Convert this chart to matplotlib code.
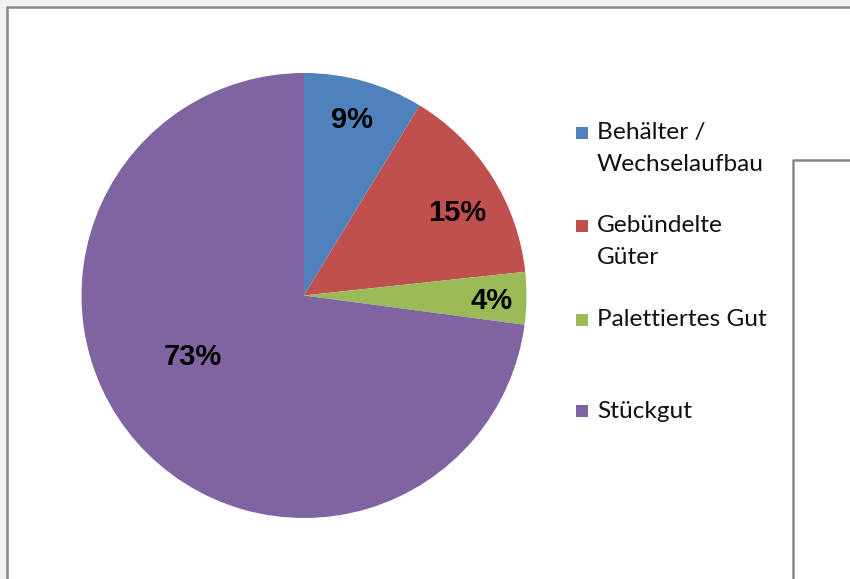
import matplotlib
matplotlib.use("Agg")
import matplotlib.pyplot as plt
from matplotlib.patches import Rectangle
from matplotlib.lines import Line2D

categories = ["Behälter /\nWechselaufbau", "Gebündelte\nGüter", "Palettiertes Gut", "Stückgut"]
values = [8.7, 14.6, 3.8, 72.9]
colors = ["#4F81BD", "#C0504D", "#9BBB59", "#8064A2"]

W, H = 850, 579
fig = plt.figure(figsize=(W / 100, H / 100), dpi=100, facecolor="#F2F2F2")

def fx(x):
    return x / W

def fy(y):
    return 1 - y / H

# outer white frame
fig.patches.append(Rectangle((fx(7), fy(H + 10)), fx(W + 10) - fx(7), fy(7) - fy(H + 10),
                             transform=fig.transFigure, facecolor="white",
                             edgecolor="#888888", linewidth=1.8, zorder=-5))
# inner partial frame (other object)
fig.add_artist(Line2D([fx(793), fx(793), fx(W + 5)], [fy(H + 5), fy(160), fy(160)],
                      transform=fig.transFigure, color="#888888", linewidth=1.8, zorder=-4))

# pie axes
cx, cy, r = 304, 295.5, 222.5
ax = fig.add_axes([fx(cx - r), fy(cy + r), 2 * r / W, 2 * r / H])
ax.set_zorder(2)
ax.patch.set_visible(False)
ax.axis("off")
wedges, texts, autotexts = ax.pie(values, colors=colors, startangle=90, counterclock=False,
                                  radius=1, autopct=lambda p: f"{p:.0f}%",
                                  wedgeprops=dict(linewidth=0),
                                  textprops=dict(fontfamily="Liberation Sans", fontweight="bold",
                                                 fontsize=21, color="black"))
ax.set_xlim(-1, 1)
ax.set_ylim(-1, 1)
label_pos = [(0.216, 0.79), (0.69, 0.37), (0.845, -0.025), (-0.50, -0.275)]
for t, (px, py) in zip(autotexts, label_pos):
    t.set_position((px, py))
    t.set_ha("center")
    t.set_va("center")

# legend
entry_y = [133, 226, 320, 411]
line_h = 31.5
fs = 16.5
renderer = fig.canvas.get_renderer()
probe = fig.text(0, 0, "Wechselaufbau", fontfamily="Lato", fontsize=fs)
wpx = probe.get_window_extent(renderer).width
fs = fs * 166 / wpx
probe.remove()
for lab, col, y0 in zip(categories, colors, entry_y):
    fig.patches.append(Rectangle((fx(576), fy(y0 + 6)), 12 / W, 12 / H,
                                 transform=fig.transFigure, facecolor=col,
                                 edgecolor="none", zorder=3))
    for i, line in enumerate(lab.split("\n")):
        fig.text(fx(597), fy(y0 + i * line_h), line, fontfamily="Lato", fontsize=fs,
                 color="#111111", ha="left", va="center")

fig.savefig("out.png", dpi=100, facecolor=fig.get_facecolor())
